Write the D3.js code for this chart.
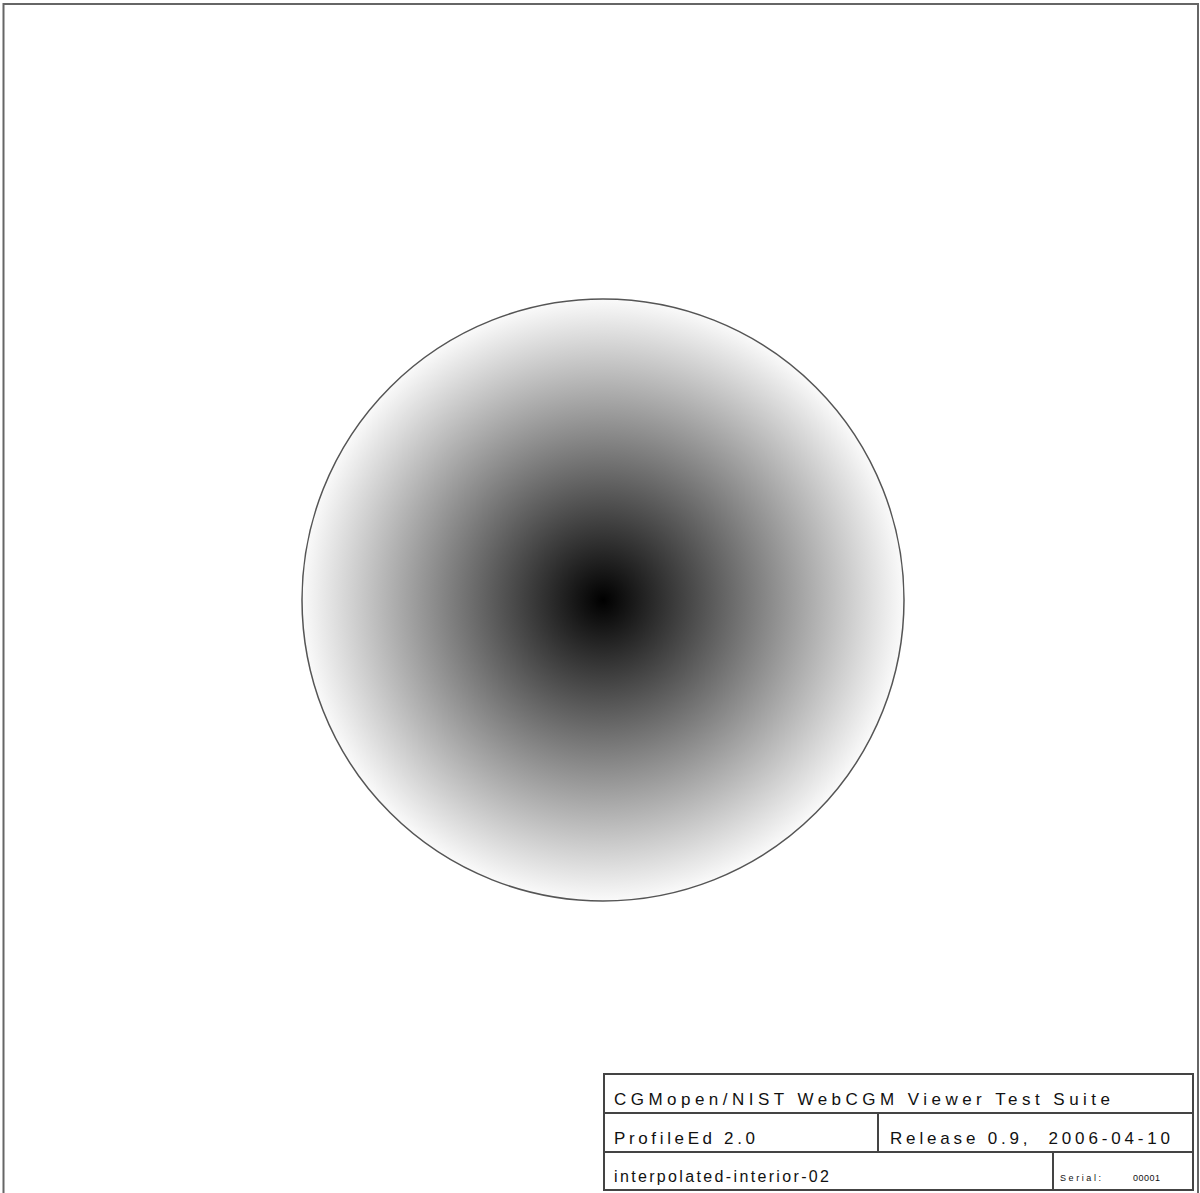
<!DOCTYPE html>
<html><head><meta charset="utf-8">
<script src="https://cdn.jsdelivr.net/npm/d3@7"></script>
<style>html,body{margin:0;padding:0;background:#fff;overflow:hidden}</style>
</head><body>
<script>
// Data
const gradientOffsets = [0, 1];
const gradientColors = ["#000000", "#fafafa"];
const circleCenter = [603, 600];
const circleRadius = 301;
const titleTexts = ["CGMopen/NIST WebCGM Viewer Test Suite", "ProfileEd 2.0", "Release 0.9,  2006-04-10", "interpolated-interior-02", "Serial:", "00001"];

const W = 1200, H = 1193;
const svg = d3.select("body").append("svg").attr("width", W).attr("height", H);

const defs = svg.append("defs");
const grad = defs.append("radialGradient").attr("id", "rg")
  .attr("gradientUnits", "userSpaceOnUse")
  .attr("cx", circleCenter[0]).attr("cy", circleCenter[1]).attr("r", circleRadius)
  .attr("fx", circleCenter[0]).attr("fy", circleCenter[1]);
grad.selectAll("stop").data(gradientOffsets).join("stop")
  .attr("offset", d => d)
  .attr("stop-color", (d, i) => gradientColors[i]);

// page frame
svg.append("rect").attr("x", 3.5).attr("y", 4).attr("width", 1194.5).attr("height", 1200)
  .attr("fill", "none").attr("stroke", "#666").attr("stroke-width", 2);

// circle
svg.append("circle").attr("cx", circleCenter[0]).attr("cy", circleCenter[1]).attr("r", circleRadius)
  .attr("fill", "url(#rg)").attr("stroke", "#555").attr("stroke-width", 1.5);

// title block
const tb = svg.append("g").attr("stroke", "#444").attr("stroke-width", 2).attr("fill", "none");
tb.append("rect").attr("x", 604).attr("y", 1074).attr("width", 589).attr("height", 116).attr("fill", "#fff");
tb.append("line").attr("x1", 604).attr("x2", 1193).attr("y1", 1113).attr("y2", 1113);
tb.append("line").attr("x1", 604).attr("x2", 1193).attr("y1", 1152).attr("y2", 1152);
tb.append("line").attr("x1", 878).attr("x2", 878).attr("y1", 1113).attr("y2", 1152);
tb.append("line").attr("x1", 1053).attr("x2", 1053).attr("y1", 1152).attr("y2", 1190);

const txt = svg.append("g").attr("font-family", "Liberation Sans, Arial, sans-serif").attr("fill", "#111");
const specs = [
  {x: 614, y: 1105, s: 17, len: 496},
  {x: 614, y: 1144, s: 17, len: 141},
  {x: 890, y: 1144, s: 17, len: 280},
  {x: 614, y: 1182, s: 16, len: 215},
  {x: 1060, y: 1181, s: 9, len: 41},
  {x: 1133, y: 1181, s: 9, len: 27}
];
txt.selectAll("text").data(titleTexts).join("text")
  .attr("x", (d, i) => specs[i].x).attr("y", (d, i) => specs[i].y)
  .attr("font-size", (d, i) => specs[i].s)
  .attr("textLength", (d, i) => specs[i].len)
  .attr("lengthAdjust", "spacing")
  .attr("xml:space", "preserve")
  .style("white-space", "pre")
  .text(d => d);
</script>
</body></html>
